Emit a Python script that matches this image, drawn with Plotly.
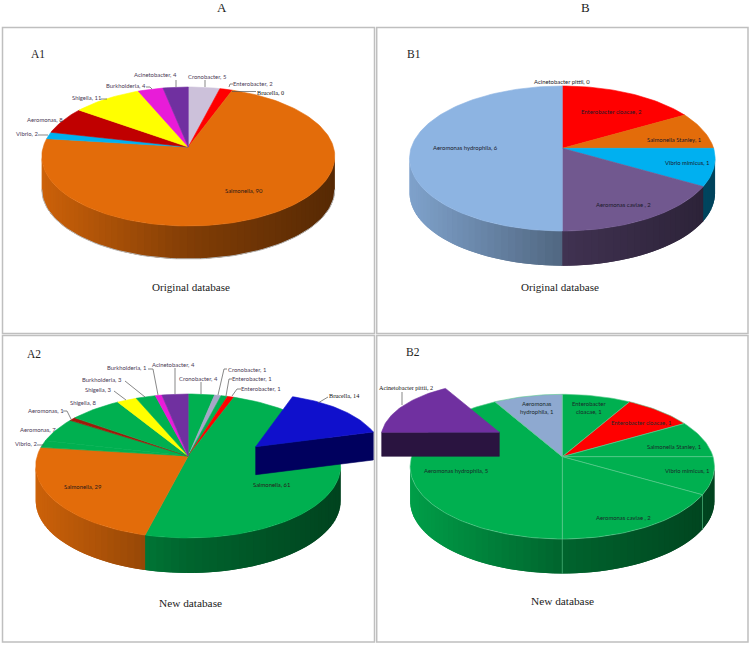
import math
import plotly.graph_objects as go

# ---------- data: clockwise from 12 o'clock ----------
a1_categories = ["Cronobacter", "Enterobacter", "Brucella", "Salmonella", "Vibrio", "Aeromonas", "Shigella", "Burkholderia", "Acinetobacter"]
a1_values = [5, 2, 0, 90, 2, 8, 11, 4, 4]
a1_colors = ["#CCC1DA", "#FF0000", "#0F0FCC", "#E36C0A", "#00B0F0", "#C00000", "#FFFF00", "#E81CD8", "#7030A0"]

a2_categories = ["Cronobacter", "Cronobacter", "Enterobacter", "Enterobacter", "Salmonella", "Salmonella", "Vibrio", "Aeromonas", "Aeromonas", "Shigella", "Shigella", "Burkholderia", "Burkholderia", "Acinetobacter"]
a2_values = [4, 1, 1, 1, 61, 29, 2, 7, 1, 8, 3, 3, 1, 4]
a2_colors = ["#00B050", "#A6A6C8", "#00B050", "#FF0000", "#00B050", "#E36C0A", "#00B050", "#00B050", "#A01A0A", "#00B050", "#FFFF00", "#00B050", "#E81CD8", "#7030A0"]
a2_pulled_category = "Brucella"
a2_pulled_value = 14

b1_categories = ["Enterobacter cloacae", "Salmonella Stanley", "Vibrio mimicus", "Aeromonas caviae ", "Aeromonas hydrophila", "Acinetobacter pittii"]
b1_values = [2, 1, 1, 2, 6, 0]
b1_colors = ["#FF0000", "#E36C0A", "#00B0F0", "#71588F", "#8DB4E2", "#7030A0"]

b2_categories = ["Enterobacter cloacae", "Enterobacter cloacae", "Salmonella Stanley", "Vibrio mimicus", "Aeromonas caviae ", "Aeromonas hydrophila", "Aeromonas hydrophila"]
b2_values = [1, 1, 1, 1, 2, 5, 1]
b2_colors = ["#00B050", "#FF0000", "#00B050", "#00B050", "#00B050", "#00B050", "#8EA9D0"]
b2_pulled_category = "Acinetobacter pittii"
b2_pulled_value = 2

# ---------- layout of the four tilted pies ----------
def geom(ax, ay, rx_seen, top, bottom, depth):
    ry = 2 / (1 / (ay - top) + 1 / (bottom - ay))
    k = ry / (ay - top) - 1
    return dict(ax=ax, ay=ay, rx=rx_seen * math.sqrt(1 - k * k), ry=ry, k=k, depth=depth)

GEO_A1 = geom(188.3, 147, 146.5, 87, 226, 33)
GEO_A2 = geom(188.2, 456, 152.5, 394, 538, 35)
GEO_B1 = geom(562.3, 148.3, 152.8, 86, 231, 34.7)
GEO_B2 = geom(562.3, 456.7, 152.2, 394.3, 539, 34.5)

def pt(g, deg, r=1.0, ax=None, ay=None, drop=0):
    t = math.radians(deg)
    u, v = r * math.sin(t), r * math.cos(t)
    w = 1 + g["k"] * v
    return ((g["ax"] if ax is None else ax) + g["rx"] * u / w,
            (g["ay"] if ay is None else ay) - g["ry"] * v / w + drop)

def rgb(c):
    return tuple(int(c[i:i + 2], 16) for i in (1, 3, 5))

def shade(c, f):
    return "rgb(%d,%d,%d)" % tuple(min(255, round(x * f)) for x in rgb(c))

def wall_factor(t):
    # t: 0 at the left edge, 1 at the right edge of the wall
    if t < 0.5:
        return 0.90 - (0.90 - 0.57) * t / 0.5
    return 0.57 - (0.57 - 0.38) * (t - 0.5) / 0.5

fig = go.Figure()

def poly(xs, ys, fill, line=None, width=0.6):
    fig.add_trace(go.Scatter(x=xs, y=ys, mode="lines", fill="toself", fillcolor=fill,
                             line=dict(color=line or fill, width=width),
                             hoverinfo="skip", showlegend=False))

def stroke(xs, ys, color="#555555", width=0.7):
    fig.add_trace(go.Scatter(x=xs, y=ys, mode="lines", line=dict(color=color, width=width),
                             hoverinfo="skip", showlegend=False))

def pie(g, values, colors, seam=None, outline=None):
    total = sum(values)
    edges = [0.0]
    for v in values:
        edges.append(edges[-1] + v / total * 360)
    start = 90 + math.degrees(math.asin(g["k"]))
    end = 270 - math.degrees(math.asin(g["k"]))
    # side wall: each band runs on under the next one, so no seams show
    stops = sorted({start, end} | {e for e in edges if start < e < end} |
                   {start + i * 2.5 for i in range(int((end - start) / 2.5) + 1)})
    x_left, x_right = pt(g, end)[0], pt(g, start)[0]
    for n, (a, b) in enumerate(zip(stops, stops[1:])):
        mid = (a + b) / 2
        i = next(j for j in range(len(values)) if edges[j] <= mid < edges[j + 1])
        ext = stops[n + 2] if n + 2 < len(stops) else b
        path = [pt(g, a + (ext - a) * j / 3) for j in range(4)]
        t = ((pt(g, a)[0] + pt(g, b)[0]) / 2 - x_left) / (x_right - x_left)
        xs = [p[0] for p in path]
        ys = [p[1] for p in path]
        poly(xs + xs[::-1] + [xs[0]], ys + [y + g["depth"] for y in ys[::-1]] + [ys[0]],
             shade(colors[i], wall_factor(t)), width=0)
    if outline:
        arc = [pt(g, start + (end - start) * i / 80, drop=g["depth"]) for i in range(81)]
        stroke([p[0] for p in arc], [p[1] for p in arc], outline, 1)
    if seam:
        for e in edges:
            if start < e < end:
                p = pt(g, e)
                stroke([p[0], p[0]], [p[1], p[1] + g["depth"]], seam, 0.6)
    # top surface
    for i, v in enumerate(values):
        if v == 0:
            continue
        n = max(2, int((edges[i + 1] - edges[i]) / 1.5))
        arc = [pt(g, edges[i] + (edges[i + 1] - edges[i]) * j / n) for j in range(n + 1)]
        poly([g["ax"]] + [p[0] for p in arc] + [g["ax"]],
             [g["ay"]] + [p[1] for p in arc] + [g["ay"]],
             colors[i], seam)

def pulled(g, ax, ay, a, sweep, r, depth, top, side, cut_at_end):
    n = 40
    arc = [pt(g, a + sweep * j / n, r, ax, ay) for j in range(n + 1)]
    e = arc[-1] if cut_at_end else arc[0]
    poly([ax, e[0], e[0], ax, ax], [ay, e[1], e[1] + depth, ay + depth, ay], side)
    poly([ax] + [p[0] for p in arc] + [ax], [ay] + [p[1] for p in arc] + [ay], top)

pie(GEO_A1, a1_values, a1_colors, outline="#B8B8B8")
pie(GEO_B1, b1_values, b1_colors)
pie(GEO_A2, a2_values, a2_colors)
pie(GEO_B2, b2_values, b2_colors, seam="#5CCB8E")

# pulled-out slices; each is drawn over the pie, as in the picture
BRUCELLA_SCALE = 90
pulled(GEO_A2, 255.7, 446.7, 19, a2_pulled_value / BRUCELLA_SCALE * 360, 0.83, 28, "#1010CC", "#00005E", True)
pulled(GEO_B2, 499.3, 432.3, 270, b2_pulled_value / sum(b2_values) * 360, 0.78, 24, "#7030A0", "#2A1440", False)

# ---------- leader lines ----------
LEADERS = [
    [(176, 80), (176, 87)], [(205, 80), (205, 87)], [(229, 87), (230, 84), (233, 84)],
    [(232, 91.5), (256, 91.5)], [(146, 87), (150, 87), (152, 89)], [(101, 99), (107, 99)],
    [(38, 135), (48, 135)],
    [(175, 368), (175, 394)], [(201, 382), (201, 394)], [(148, 369), (153, 369), (158, 395)],
    [(125, 381), (145, 397)], [(114, 391), (126, 400)], [(63, 411), (67, 411), (71, 419)],
    [(37, 445), (44, 445)], [(227, 369), (224, 369), (218, 395)],
    [(232, 379), (229, 379), (226, 396)], [(241, 389), (237, 389), (232, 396)],
    [(328, 397), (318, 403)], [(402, 392), (402, 405)],
]
for seg in LEADERS:
    stroke([p[0] for p in seg], [p[1] for p in seg])

# ---------- text ----------
INNER = "#2A1A1A"
OUTER = "#4A3A55"
SANS = "Lato"
SERIF = "Liberation Serif"
annos = []
def label(x, y, text, size=5.9, color=OUTER, family=SANS):
    annos.append(dict(x=x, y=y, xref="x", yref="y", text=text, showarrow=False, xanchor="center",
                      yanchor="middle", align="center", font=dict(size=size, color=color, family=family)))

def name(cats, vals, i):
    return f"{cats[i]}, {vals[i]}"

A1_POS = [(207, 76.7), (253, 83.7), (270, 92), (244, 190), (27, 133), (45, 119), (86, 97), (126, 85), (155, 74)]
for i, p in enumerate(A1_POS):
    bold = a1_categories[i] == "Brucella"
    label(p[0], p[1], name(a1_categories, a1_values, i),
          size=6.2 if bold else 5.9, color="#111111" if bold else (INNER if i == 3 else OUTER),
          family=SERIF if bold else SANS)

A2_POS = [(198, 378), (247, 369), (252, 378.7), (261, 388.7), (271, 484.7), (83, 486), (26, 443), (38, 429), (46, 410), (83, 402.7), (98, 389.7), (102, 379.7), (126, 367.7), (173, 364)]
for i, p in enumerate(A2_POS):
    label(p[0], p[1], name(a2_categories, a2_values, i), color=INNER if i in (4, 5) else OUTER)
label(344, 395.7, f"{a2_pulled_category}, {a2_pulled_value}", size=6.2, color="#111111", family=SERIF)

B1_POS = [(611, 111), (674, 139), (687, 162.7), (623, 204.7), (465, 147)]
for i, p in enumerate(B1_POS):
    label(p[0], p[1], name(b1_categories, b1_values, i), color="#1A1A2A")
label(561.7, 81, name(b1_categories, b1_values, 5), color="#1A1A2A")

B2_POS = [(589, 407), (641, 422.7), (674, 446), (687, 470), (623, 517), (456, 470.7), (536, 407)]
for i, p in enumerate(B2_POS):
    text = name(b2_categories, b2_values, i)
    if i == 0:
        text = f"Enterobacter<br>cloacae, {b2_values[i]}"
    if i == 6:
        text = f"Aeromonas<br>hydrophila, {b2_values[i]}"
    label(p[0], p[1], text, color="#1A2A2A")
label(405.7, 387.7, f"{b2_pulled_category}, {b2_pulled_value}", size=6.2, color="#111111", family=SERIF)

for x, y, s, size in [(222, 7, "A", 13), (585, 7, "B", 13), (38, 54, "A1", 11.5), (414, 54, "B1", 11.5),
                      (34, 354, "A2", 11.5), (413, 352, "B2", 11.5),
                      (191, 287, "Original database", 11.1), (560, 287, "Original database", 11.1),
                      (190, 603, "New database", 11.3), (562, 601, "New database", 11.3)]:
    label(x, y, s, size=size, color="#222222", family=SERIF)

# ---------- panel frames ----------
shapes = [dict(type="rect", xref="x", yref="y", x0=x0, x1=x1, y0=y0, y1=y1, layer="below",
               line=dict(color="#BFBFBF", width=1.5), fillcolor="white")
          for x0, x1, y0, y1 in [(2.5, 374.5, 27.5, 333.5), (376.7, 748, 27.5, 333.5),
                                 (2.5, 374.5, 335.5, 642), (376.7, 748, 335.5, 642)]]

fig.update_layout(width=751, height=645, margin=dict(l=0, r=0, t=0, b=0), autosize=False,
                  paper_bgcolor="white", plot_bgcolor="white", showlegend=False,
                  annotations=annos, shapes=shapes,
                  xaxis=dict(range=[0, 751], visible=False, fixedrange=True),
                  yaxis=dict(range=[645, 0], visible=False, fixedrange=True))
fig.write_html("out.html", config=dict(displayModeBar=False),
               post_script="document.body.style.margin='0';document.documentElement.style.overflow='hidden';")
